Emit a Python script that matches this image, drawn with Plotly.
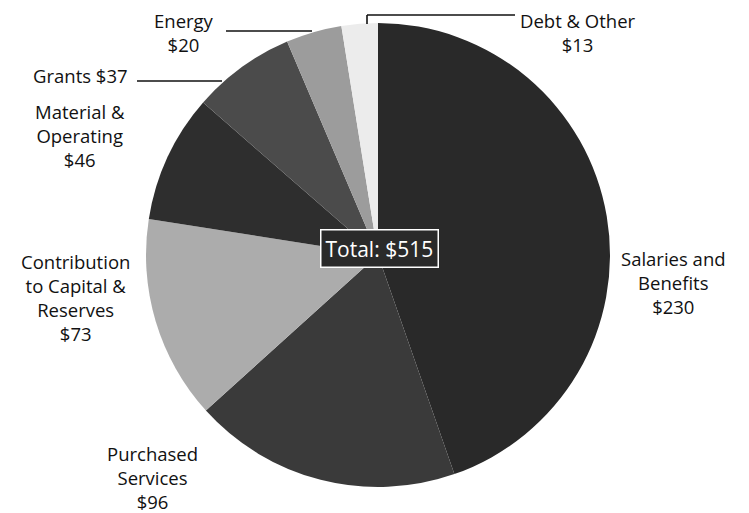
import plotly.graph_objects as go

# The page body has an 8px margin; the figure is sized so it fits the 749x513 window.
OFF = 8
W, H = 749 - OFF, 513 - OFF

categories = ["Salaries and Benefits", "Purchased Services", "Contribution to Capital & Reserves",
              "Material & Operating", "Grants", "Energy", "Debt & Other"]
values = [230, 96, 73, 46, 37, 20, 13]
label_texts = ["Salaries and<br>Benefits<br>$230", "Purchased<br>Services<br>$96",
               "Contribution<br>to Capital &<br>Reserves<br>$73", "Material &<br>Operating<br>$46",
               "Grants $37", "Energy<br>$20", "Debt & Other<br>$13"]
total_text = "Total: $515"

colors = ["#292929", "#3a3a3a", "#acacac", "#2e2e2e", "#4b4b4b", "#9c9c9c", "#ececec"]

def px(x):
    return (x - OFF) / W

def py(y):
    return 1 - (y - OFF) / H

fig = go.Figure(go.Pie(
    labels=categories, values=values, sort=False, direction="clockwise", rotation=0,
    marker=dict(colors=colors, line=dict(width=0)),
    textinfo="none", hoverinfo="label+value", showlegend=False,
    domain=dict(x=[px(146), px(610)], y=[py(487), py(23)]),
))

FONT = "Open Sans"
# label positions (reference pixel centres)
pos = [(673, 282), (152, 477), (75, 297), (80, 135), (80, 75), (184, 32), (578, 32)]
for t, (x, y) in zip(label_texts, pos):
    fig.add_annotation(x=px(x), y=py(y), xref="paper", yref="paper", text=t, showarrow=False,
                       font=dict(family=FONT, size=18.5, color="#111"), align="center",
                       xanchor="center", yanchor="middle", borderpad=0)

# leader lines
line_style = dict(color="#111", width=1.6)
fig.add_shape(type="line", xref="paper", yref="paper", x0=px(137), y0=py(81), x1=px(222), y1=py(81), line=line_style)
fig.add_shape(type="line", xref="paper", yref="paper", x0=px(226), y0=py(31), x1=px(312), y1=py(31), line=line_style)
fig.add_shape(type="line", xref="paper", yref="paper", x0=px(367), y0=py(15), x1=px(515), y1=py(15), line=line_style)
fig.add_shape(type="line", xref="paper", yref="paper", x0=px(367), y0=py(15), x1=px(367), y1=py(24), line=line_style)

# total box
fig.add_annotation(x=px(379.5), y=py(248), xref="paper", yref="paper", text=total_text, showarrow=False,
                   font=dict(family=FONT, size=21, color="white"), bgcolor="#2a2a2a",
                   bordercolor="white", borderwidth=1.5, borderpad=4,
                   xanchor="center", yanchor="middle")

fig.update_layout(width=W, height=H, margin=dict(l=0, r=0, t=0, b=0),
                  paper_bgcolor="white", plot_bgcolor="white")
fig.write_html("out.html")
